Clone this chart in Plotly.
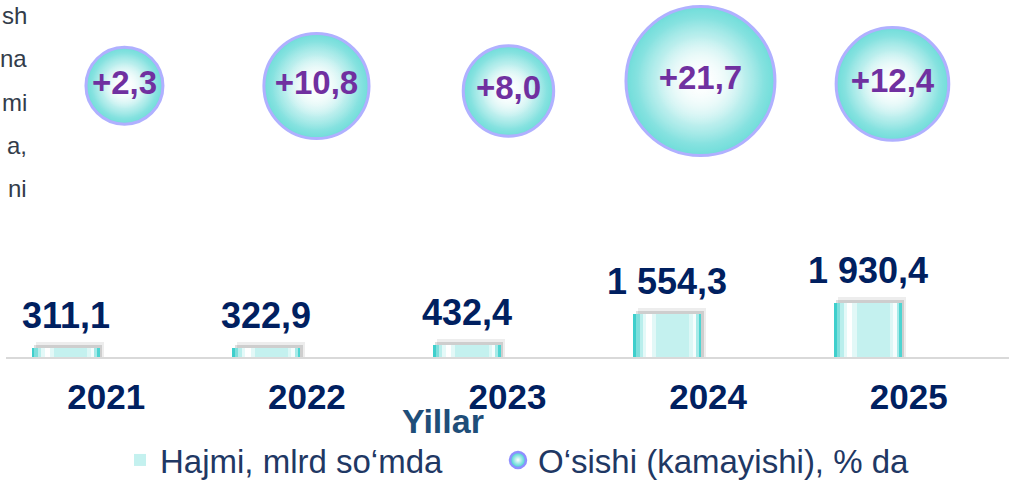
import plotly.graph_objects as go

# data
years = ["2021", "2022", "2023", "2024", "2025"]
volume = [311.1, 322.9, 432.4, 1554.3, 1930.4]      # Hajmi, mlrd so'mda
growth = [2.3, 10.8, 8.0, 21.7, 12.4]               # O'sishi (kamayishi), % da
bubble_y = [76.0, 75.9, 74.5, 77.3, 76.5]           # bubble series y values (0-100 scale)
side_text = ["sh", "na", "mi", "a,", "ni"]          # clipped text of a neighbouring box

FONT = "Liberation Sans, Arial, sans-serif"
NAVY = "#002060"
PURPLE = "#7030A0"
TEAL = "#34CFCB"
RIM = "#8F8FFF"

W, H = 1009, 480
ML, MB = 6, 123
PLOT_W = W - ML
PLOT_H = H - MB
Y_MAX = 12850
PX = Y_MAX / PLOT_H   # data units per pixel on the bar axis

BAR_OFF, BAR_W = -0.372, 0.339


def fmt_volume(v):
    return f"{v:,.1f}".replace(",", " ").replace(".", ",")


def fmt_growth(v):
    return f"+{v:.1f}".replace(".", ",")


def px_x(p):
    return (p - ML) / PLOT_W


def px_y(p):
    return (PLOT_H - p) / PLOT_H


fig = go.Figure()

# soft shadow behind the bars
for dx, dy, col in [(0.022, 6, "rgba(0,0,0,0.07)"), (0.012, 3, "rgba(0,0,0,0.13)")]:
    fig.add_trace(go.Bar(x=years, y=[v + dy * PX for v in volume], offset=BAR_OFF + dx, width=BAR_W,
                         marker=dict(color=col, line=dict(width=0)), showlegend=False, hoverinfo="skip"))

# main bar (legend entry)
fig.add_trace(go.Bar(x=years, y=volume, offset=BAR_OFF, width=BAR_W, name="Hajmi, mlrd so‘mda",
                     legend="legend", marker=dict(color="#C4F1EF", line=dict(width=0))))

# vertical strips to fake the cylinder-like gradient
strips = [(0.00, 0.04, "#3FCFCC"), (0.04, 0.09, "#7EDFDC"), (0.09, 0.14, "#B9EEEC"),
          (0.14, 0.19, "#E4F9F8"), (0.19, 0.27, "#FFFFFF"), (0.27, 0.33, "#E2F8F7"),
          (0.82, 0.87, "#DDF7F6"), (0.87, 0.92, "#F5FDFD"), (0.92, 0.96, "#A6EAE8"),
          (0.96, 1.00, "#4ED4D1")]
for a, b, col in strips:
    fig.add_trace(go.Bar(x=years, y=volume, offset=BAR_OFF + a * BAR_W, width=(b - a) * BAR_W,
                         marker=dict(color=col, line=dict(width=0)), showlegend=False, hoverinfo="skip"))

# bubbles
bx = [int(y) for y in years]
SREF = 2 * max(growth) / 149 ** 2
RMIN = 38.5
fig.add_trace(go.Scatter(
    x=bx, y=bubble_y, xaxis="x2", yaxis="y2", mode="markers", showlegend=False,
    marker=dict(size=growth, sizemode="area", sizeref=SREF, sizemin=RMIN, color=TEAL,
                gradient=dict(type="radial", color="white"), line=dict(color=RIM, width=3)),
))
# white fades on top to keep the centre white and the teal as a rim
for k in (0.85, 0.6):
    fig.add_trace(go.Scatter(
        x=bx, y=bubble_y, xaxis="x2", yaxis="y2", mode="markers", showlegend=False, hoverinfo="skip",
        marker=dict(size=growth, sizemode="area", sizeref=SREF / k ** 2, sizemin=RMIN * k,
                    color="rgba(255,255,255,0)", gradient=dict(type="radial", color="white"),
                    line=dict(width=0)),
    ))
fig.add_trace(go.Scatter(
    x=bx, y=bubble_y, xaxis="x2", yaxis="y2", mode="text", showlegend=False,
    text=[fmt_growth(g) for g in growth], textposition="middle center",
    textfont=dict(family=FONT, size=33, color=PURPLE, weight="bold"),
))
# legend key for the bubble series (legend symbols of array-sized markers come out tiny)
fig.add_trace(go.Scatter(
    x=[None], y=[None], xaxis="x2", yaxis="y2", mode="markers", name="O‘sishi (kamayishi), % da",
    legend="legend2",
    marker=dict(size=28, color=TEAL, gradient=dict(type="radial", color="white"),
                line=dict(color=RIM, width=2.5)),
))

annotations = []
for i, v in enumerate(volume):
    annotations.append(dict(x=i + BAR_OFF + BAR_W / 2, y=v, xref="x", yref="y", text=fmt_volume(v),
                            showarrow=False, yanchor="bottom", yshift=10,
                            font=dict(family=FONT, size=36, color=NAVY, weight="bold")))

for j, t in enumerate(side_text):
    annotations.append(dict(x=px_x(29), y=px_y(16 + 43 * j), xref="paper", yref="paper",
                            text=t, showarrow=False, xanchor="right", yanchor="middle",
                            font=dict(family=FONT, size=24, color="#333C4A")))

annotations.append(dict(x=px_x(443), y=px_y(421), xref="paper", yref="paper",
                        text="Yillar", showarrow=False, xanchor="center", yanchor="middle",
                        font=dict(family=FONT, size=34, color="#1F4E79", weight="bold")))

legend_font = dict(family=FONT, size=33, color="#1F3864")
fig.update_layout(
    width=W, height=H,
    margin=dict(l=ML, r=0, t=0, b=MB, autoexpand=False),
    paper_bgcolor="white", plot_bgcolor="white",
    barmode="overlay", bargap=0,
    xaxis=dict(type="category", range=[-0.5, 4.5], showgrid=False, zeroline=False,
               showline=True, linecolor="#D9D9D9", linewidth=2, automargin=False,
               ticks="outside", ticklen=8, tickcolor="rgba(0,0,0,0)",
               tickfont=dict(family=FONT, size=35, color=NAVY, weight="bold")),
    yaxis=dict(range=[0, Y_MAX], visible=False),
    xaxis2=dict(overlaying="x", range=[2020.383, 2025.607], visible=False),
    yaxis2=dict(overlaying="y", range=[0, 100], visible=False),
    legend=dict(orientation="h", x=px_x(120), xanchor="left", y=px_y(460), yanchor="middle",
                itemsizing="constant", font=legend_font, bgcolor="rgba(0,0,0,0)"),
    legend2=dict(orientation="h", x=px_x(498), xanchor="left", y=px_y(460), yanchor="middle",
                 itemsizing="trace", font=legend_font, bgcolor="rgba(0,0,0,0)"),
    annotations=annotations,
    showlegend=True,
)

# the page's default 8px body margin would shift the fixed-size figure
fig.write_html("out.html", config={"displayModeBar": False},
               post_script="document.body.style.margin = '0';")
